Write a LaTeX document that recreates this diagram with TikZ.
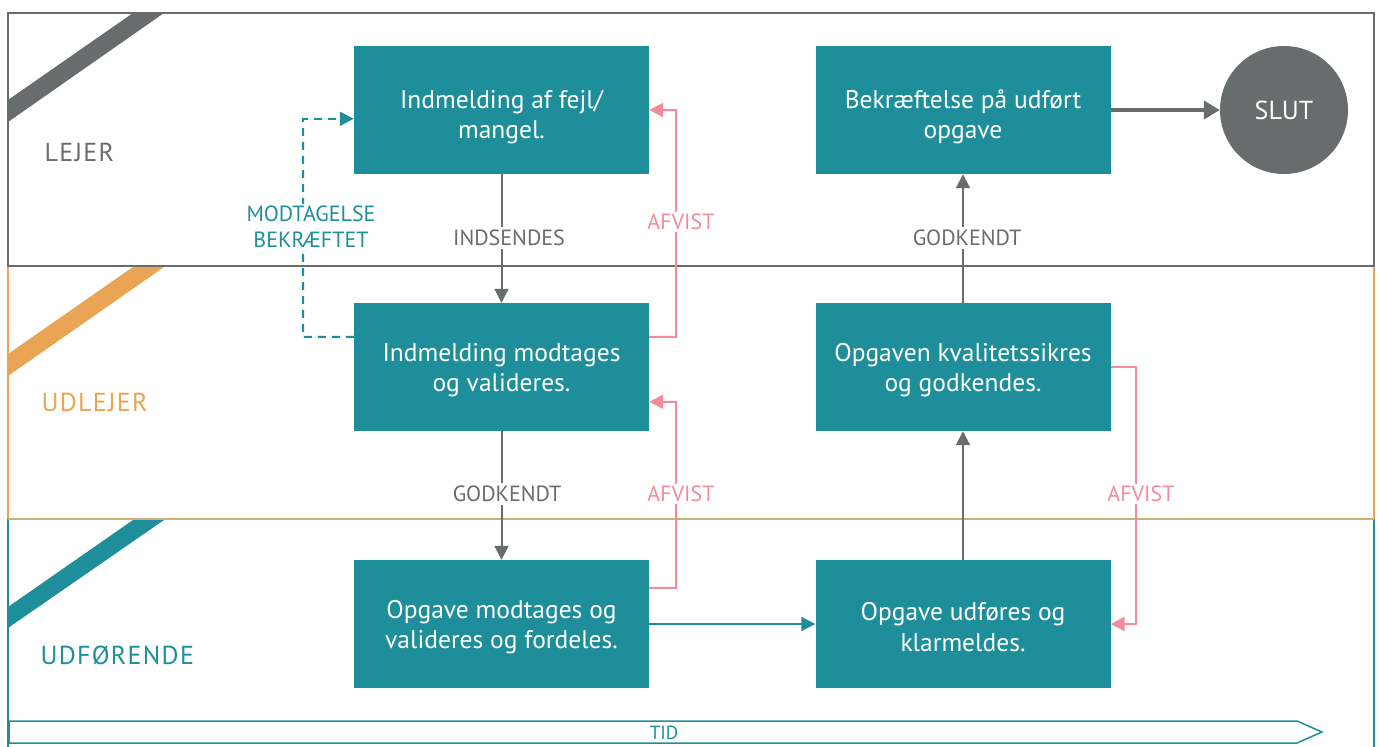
\documentclass[tikz,border=0pt]{standalone}
\usepackage{fontspec}
\setmainfont{PT Sans}
\newfontfamily\lanefont[LetterSpace=5]{PT Sans}
\usetikzlibrary{arrows.meta,calc}
\definecolor{tealc}{HTML}{1E8F9A}
\definecolor{grayc}{HTML}{696C6C}
\definecolor{orangec}{HTML}{E9A553}
\definecolor{pinkc}{HTML}{F28B9B}
\definecolor{goldc}{HTML}{C9B07A}
\newcommand{\topstrut}{\rule{0pt}{24pt}}
\newcommand{\tallstrut}{\rule{0pt}{32pt}}
\tikzset{
  box/.style={fill=tealc, draw=none, minimum width=295pt, minimum height=128pt, text=white, align=center, font=\fontsize{25.5}{30.5}\selectfont, inner sep=0pt},
  garrow/.style={draw=grayc, line width=2pt, -{Triangle[length=14pt,width=14pt]}},
  tarrow/.style={draw=tealc, line width=2pt, -{Triangle[length=14pt,width=14pt]}},
  parrow/.style={draw=pinkc, line width=2pt, -{Triangle[length=14pt,width=14pt]}},
  darrow/.style={draw=tealc, line width=2pt, dash pattern=on 8pt off 6pt, -{Triangle[length=14pt,width=14pt]}},
  lbl/.style={fill=white, inner sep=3pt, font=\fontsize{22}{26}\selectfont, align=center},
  lane/.style={anchor=west, font=\lanefont\fontsize{26}{28}\selectfont}
}
\begin{document}
\begin{tikzpicture}[x=1pt,y=-1pt]
\useasboundingbox (0,0) rectangle (1379,747);
% lanes
\draw[draw=tealc, line width=2pt] (8,519) -- (8,750);
\draw[draw=tealc, line width=2pt] (1374,519) -- (1374,750);
\draw[draw=orangec, line width=2pt] (8,266) -- (8,519);
\draw[draw=orangec, line width=2pt] (1374,266) -- (1374,519);
\draw[draw=goldc, line width=2.5pt] (8,519) -- (1374,519);
\draw[draw=grayc, line width=2pt] (8,13) rectangle (1374,266);
% stripes
\fill[grayc] (133,13) -- (164,13) -- (8,122) -- (8,100) -- cycle;
\fill[orangec] (133,267) -- (164,267) -- (8,376) -- (8,354) -- cycle;
\fill[tealc] (133,520) -- (164,520) -- (8,628) -- (8,607) -- cycle;
% lane labels
\node[lane, text=grayc] (l1) at (41,152) {LEJER};
\node[lane, text=orangec] (l2) at (38,402) {UDLEJER};
\node[lane, text=tealc] (l3) at (37,655) {UDFØRENDE};
% time arrow
\draw[draw=tealc, line width=1.5pt] (9,721) -- (1297,721) -- (1322,732) -- (1297,743) -- (9,743) -- cycle;
\node[text=tealc, font=\fontsize{19}{20}\selectfont] (tid) at (664,733) {TID};
% boxes
\node[box] (b1) at (501.5,110) {\tallstrut Indmelding af fejl/\\mangel.};
\node[box] (b2) at (501.5,367) {\topstrut Indmelding modtages\\og valideres.};
\node[box] (b3) at (501.5,624) {\topstrut Opgave modtages og\\valideres og fordeles.};
\node[box] (b4) at (963,110) {\tallstrut Bekræftelse på udført\\opgave};
\node[box] (b5) at (963,367) {\topstrut Opgaven kvalitetssikres\\og godkendes.};
\node[box] (b6) at (963,624) {\topstrut Opgave udføres og\\klarmeldes.};
\node[circle, fill=grayc, minimum size=128pt, inner sep=0pt, text=white, font=\fontsize{26}{28}\selectfont] (slut) at (1284,110) {SLUT};
% main arrows
\draw[garrow] (b1) -- (b2);
\draw[garrow] (b2) -- (b3);
\draw[tarrow] (b3) -- (b6);
\draw[garrow] (b6) -- (b5);
\draw[garrow] (b5) -- (b4);
\draw[draw=grayc, line width=4pt, -{Triangle[length=16pt,width=18pt]}] (b4) -- (slut);
% labels on gray arrows
\node[lbl, text=grayc] (ind) at (509,238) {INDSENDES};
\node[lbl, text=grayc] (god1) at (507,494) {GODKENDT};
\node[lbl, text=grayc] (god2) at (967,238) {GODKENDT};
% dashed feedback
\coordinate (d0) at ($(b2.north west)+(0,34)$);
\coordinate (d1) at ($(b1.north west)+(0,73)$);
\draw[darrow] (d0) -- (303,337) |- (d1);
\node[lbl, text=tealc, inner sep=2pt] (mod) at (311,227) {MODTAGELSE\\BEKRÆFTET};
% rejected arrows
\coordinate (p0) at ($(b2.north east)+(0,34)$);
\draw[parrow] (p0) -- (676,337) |- (b1.east);
\coordinate (p1) at ($(b3.north east)+(0,28)$);
\coordinate (p2) at ($(b2.north east)+(0,99)$);
\draw[parrow] (p1) -- (676,588) |- (p2);
\draw[parrow] (b5.east) -- (1136,367) |- (b6.east);
\node[lbl, text=pinkc, inner sep=2pt] (af1) at (681,222) {AFVIST};
\node[lbl, text=pinkc, inner sep=2pt] (af2) at (681,494) {AFVIST};
\node[lbl, text=pinkc, inner sep=2pt] (af3) at (1141,494) {AFVIST};
\end{tikzpicture}
\end{document}
